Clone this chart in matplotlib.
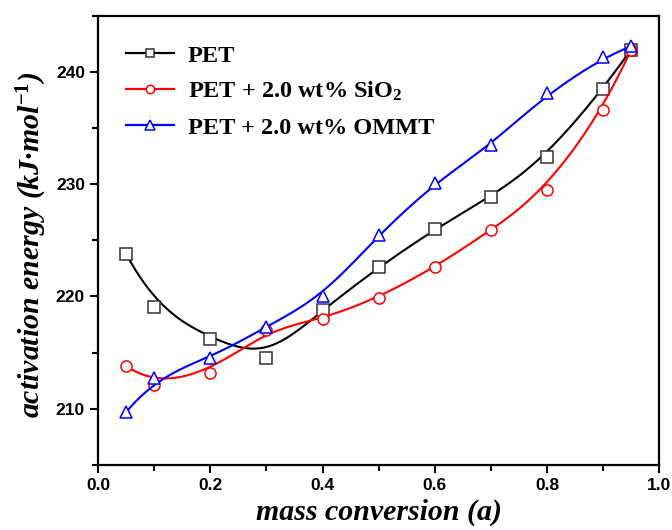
import numpy as np
import matplotlib
matplotlib.use('Agg')
import matplotlib.pyplot as plt
from matplotlib.ticker import MultipleLocator

plt.rcParams['mathtext.fontset'] = 'custom'
plt.rcParams['mathtext.rm'] = 'Liberation Serif:bold'
plt.rcParams['mathtext.bf'] = 'Liberation Serif:bold'
plt.rcParams['mathtext.it'] = 'Liberation Serif:bold:italic'

# Data
alpha = [0.05, 0.1, 0.2, 0.3, 0.4, 0.5, 0.6, 0.7, 0.8, 0.9, 0.95]
e_pet = [223.8, 219.1, 216.2, 214.5, 218.8, 222.6, 226.0, 228.9, 232.4, 238.5, 242.0]
e_sio2 = [213.8, 212.1, 213.2, 217.0, 218.0, 219.9, 222.6, 225.9, 229.5, 236.6, 242.0]
e_ommt = [209.7, 212.7, 214.5, 217.3, 220.0, 225.5, 230.1, 233.5, 238.1, 241.3, 242.3]

labels = ['PET', 'PET + 2.0 wt% SiO$_2$', 'PET + 2.0 wt% OMMT']
colors = ['black', 'red', 'blue']
markers = ['s', 'o', '^']


def bspline(x, y, k=3, n=300):
    """
    clamped B-spline with data points as control points (like Origin's B-spline)
    """
    P = np.column_stack([x, y])
    m = len(P)
    knots = np.concatenate([np.zeros(k), np.linspace(0, 1, m - k + 1), np.ones(k)])
    t = np.linspace(0, 1 - 1e-9, n)
    # Cox-de Boor recursion
    B = np.zeros((n, len(knots) - 1))
    for i in range(len(knots) - 1):
        B[:, i] = (t >= knots[i]) & (t < knots[i + 1])
    for d in range(1, k + 1):
        Bn = np.zeros((n, len(knots) - 1 - d))
        for i in range(len(knots) - 1 - d):
            a = knots[i + d] - knots[i]
            b = knots[i + d + 1] - knots[i + 1]
            left = (t - knots[i]) / a * B[:, i] if a > 0 else 0
            right = (knots[i + d + 1] - t) / b * B[:, i + 1] if b > 0 else 0
            Bn[:, i] = left + right
        B = Bn
    C = B @ P
    C = np.vstack([C, P[-1]])
    return C[:, 0], C[:, 1]


fig = plt.figure(figsize=(6.72, 5.30), dpi=100)
ax = fig.add_axes([0.146, 0.123, 0.835, 0.847])

for ys, c, mk, lab in zip([e_pet, e_sio2, e_ommt], colors, markers, labels):
    ec = '#333333' if c == 'black' else c
    ms = 9 if mk == '^' else 8
    xs_s, ys_s = bspline(alpha, ys)
    ax.plot(xs_s, ys_s, color=c, lw=1.5)
    ax.plot(alpha, ys, linestyle='none', marker=mk, ms=ms,
            mfc='white', mec=ec, mew=1.1)
    # legend proxy
    ax.plot([], [], color=c, lw=1.6, marker=mk, ms=ms - 2,
            mfc='white', mec=ec, mew=1.1, label=lab)

ax.set_xlim(0.0, 1.0)
ax.set_ylim(205, 245)
ax.xaxis.set_major_locator(MultipleLocator(0.2))
ax.xaxis.set_minor_locator(MultipleLocator(0.1))
ax.yaxis.set_major_locator(MultipleLocator(10))
ax.yaxis.set_minor_locator(MultipleLocator(5))
ax.tick_params(which='both', direction='out', width=1.5)
ax.tick_params(which='major', length=6)
ax.tick_params(which='minor', length=4)
ax.tick_params(top=False, right=False)
for sp in ax.spines.values():
    sp.set_linewidth(1.6)

for lab in ax.get_xticklabels() + ax.get_yticklabels():
    lab.set_fontfamily('Liberation Sans')
    lab.set_fontweight('bold')
    lab.set_fontsize(12.5)

ax.set_xlabel('mass conversion (a)', family='Liberation Serif', style='italic',
              weight='bold', fontsize=21.5, labelpad=4)
ax.set_ylabel('activation energy (kJ\u00b7mol$^{\\mathit{-1}}$)', family='Liberation Serif',
              style='italic', weight='bold', fontsize=21.5, labelpad=5)
ax.yaxis.label.set_y(0.49)

leg = ax.legend(loc='upper left', bbox_to_anchor=(0.01, 0.985), frameon=False,
                prop={'family': 'Liberation Serif', 'weight': 'bold', 'size': 17.5},
                handlelength=2.0, handletextpad=0.55, labelspacing=0.55)

fig.savefig('out.png', dpi=100)
